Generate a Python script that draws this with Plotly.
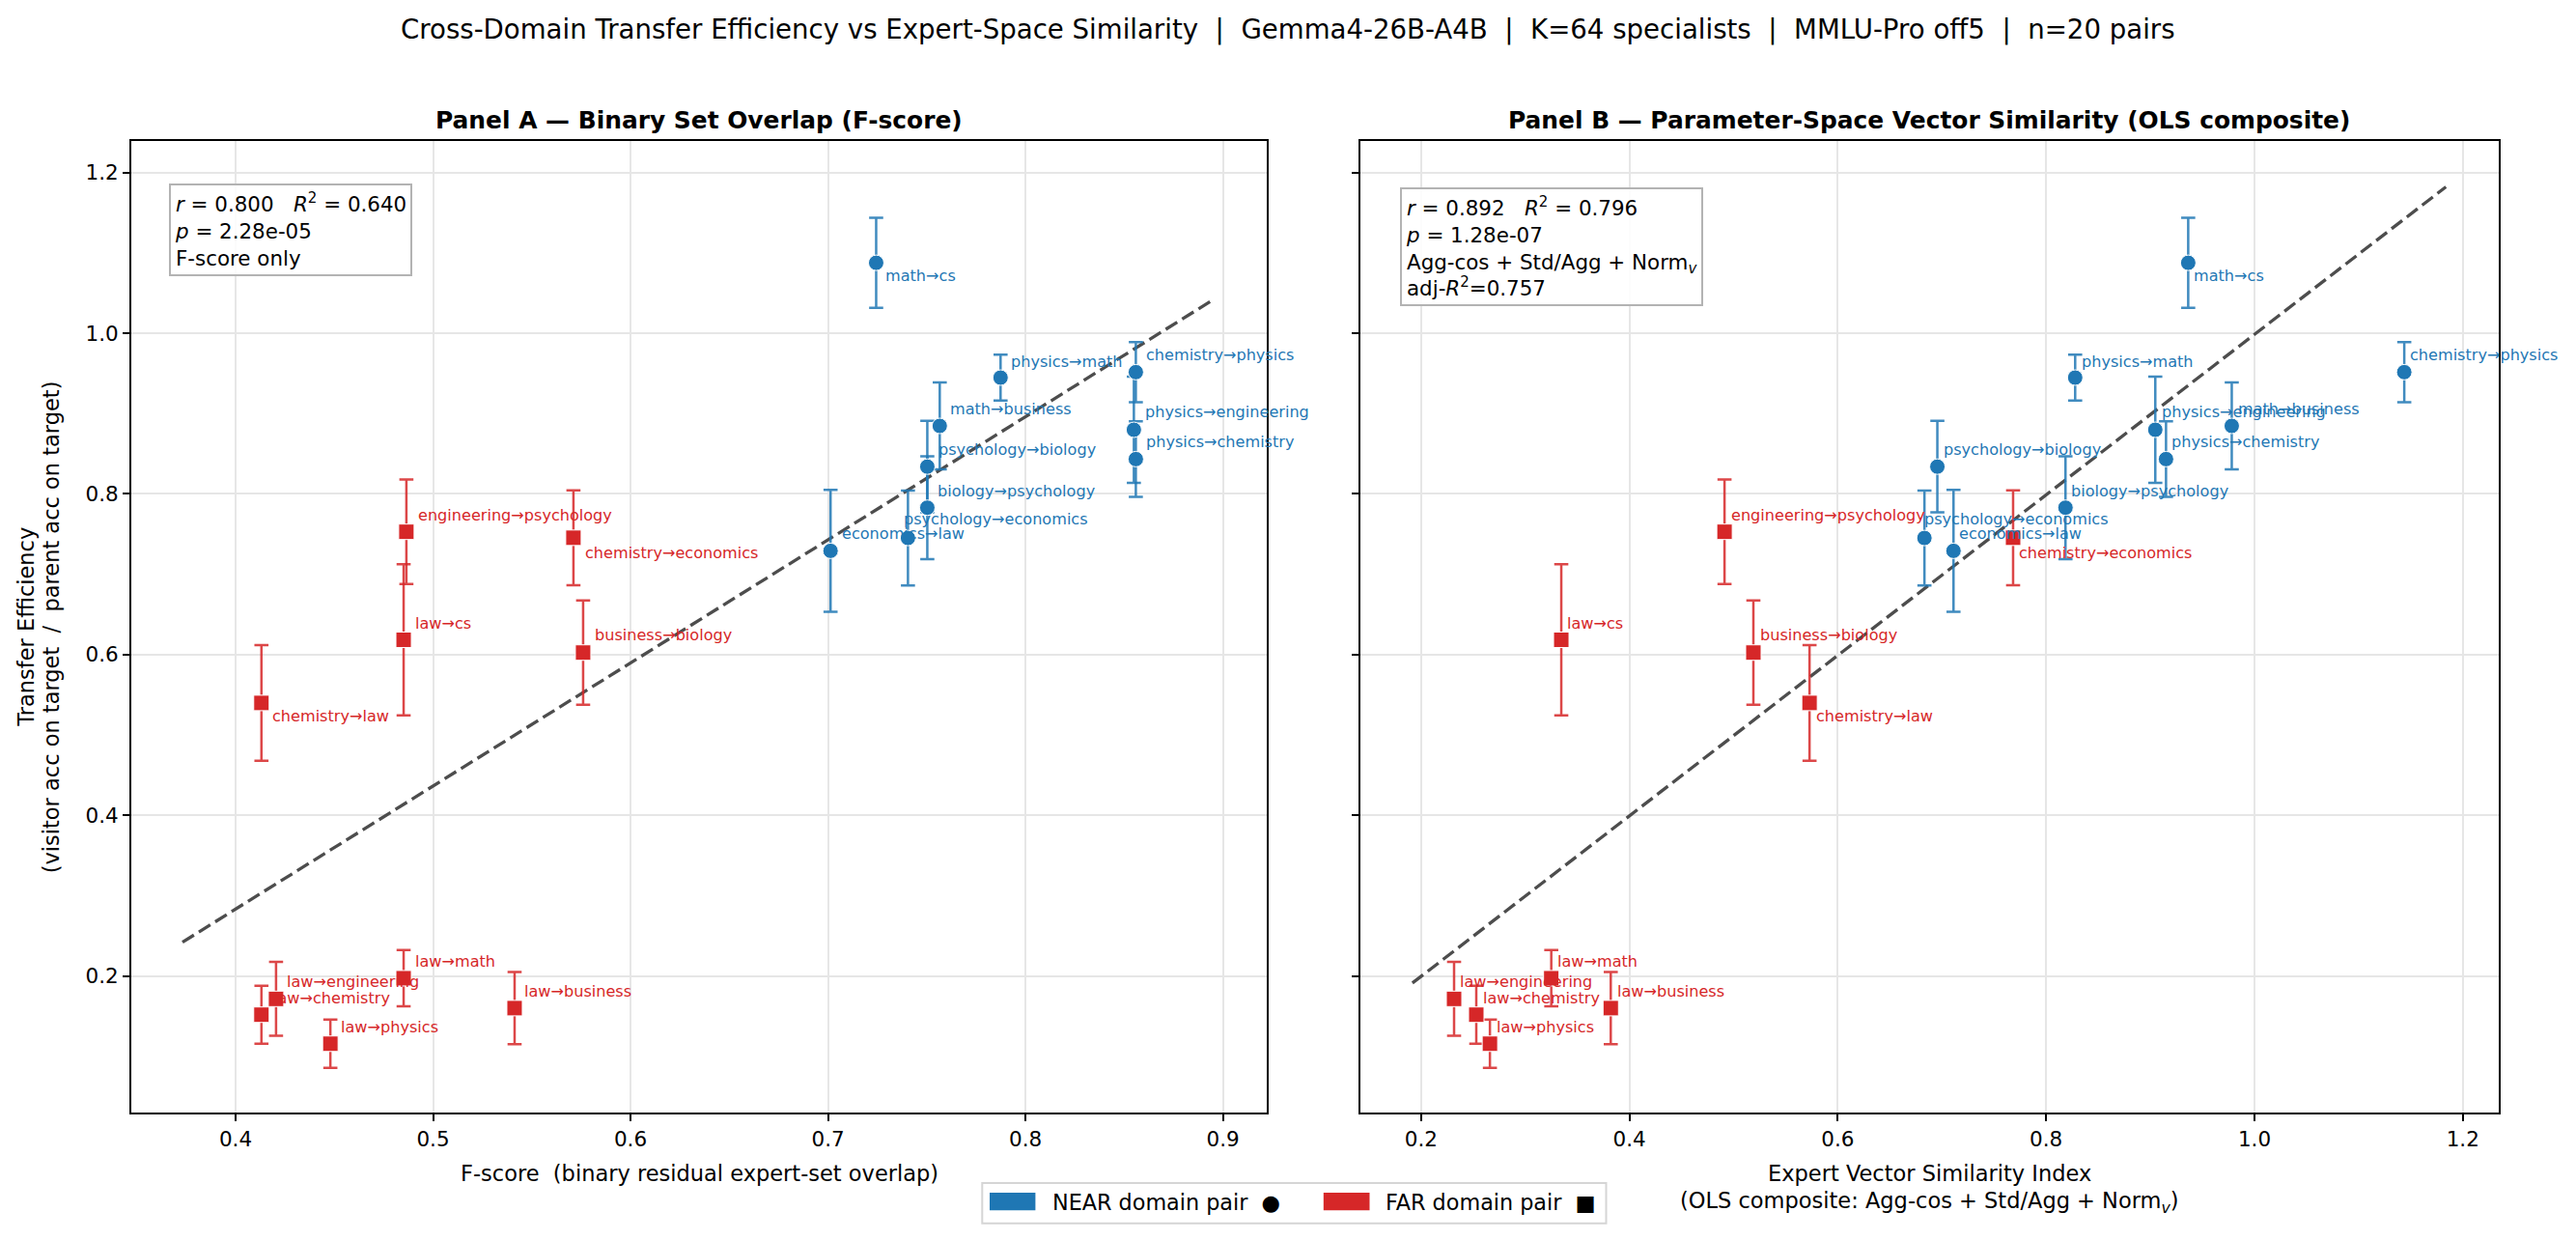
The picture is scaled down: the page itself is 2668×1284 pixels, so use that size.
import numpy as np
import plotly.graph_objects as go

W, H = 2668, 1284

# ---------------- data ----------------
near_pairs = ["math→cs", "physics→math", "chemistry→physics", "physics→engineering",
              "math→business", "physics→chemistry", "psychology→biology",
              "biology→psychology", "psychology→economics", "economics→law"]
near_fscore = [0.7244, 0.7874, 0.8559, 0.8549, 0.7566, 0.8559, 0.7503, 0.7503, 0.7405, 0.7013]
near_vsi = [0.9364, 0.8279, 1.1438, 0.9048, 0.9782, 0.9151, 0.6956, 0.8186, 0.6832, 0.7111]
near_te = [1.0876, 0.9447, 0.9515, 0.8798, 0.8846, 0.8433, 0.8339, 0.7828, 0.7451, 0.7291]
near_err = [0.056, 0.0285, 0.0375, 0.066, 0.054, 0.047, 0.057, 0.064, 0.059, 0.076]

far_pairs = ["engineering→psychology", "chemistry→economics", "law→cs", "business→biology",
             "chemistry→law", "law→math", "law→business", "law→engineering",
             "law→chemistry", "law→physics"]
far_fscore = [0.4865, 0.5711, 0.4851, 0.5760, 0.4131, 0.4851, 0.5413, 0.4205, 0.4131, 0.4480]
far_vsi = [0.4913, 0.7683, 0.3346, 0.5190, 0.5729, 0.3250, 0.3821, 0.2317, 0.2530, 0.2661]
far_te = [0.7528, 0.7454, 0.6184, 0.6025, 0.5398, 0.1972, 0.1600, 0.1715, 0.1518, 0.1157]
far_err = [0.065, 0.059, 0.094, 0.065, 0.072, 0.035, 0.045, 0.046, 0.036, 0.030]

stats_a = ["<i>r</i> = 0.800\u00a0\u00a0\u00a0<i>R</i><sup>2</sup> = 0.640",
           "<i>p</i> = 2.28e-05", "F-score only"]
stats_b = ["<i>r</i> = 0.892\u00a0\u00a0\u00a0<i>R</i><sup>2</sup> = 0.796",
           "<i>p</i> = 1.28e-07", "Agg-cos + Std/Agg + Norm<sub><i>v</i></sub>",
           "adj-<i>R</i><sup>2</sup>=0.757"]

# ---------------- label offsets (style, in px) ----------------
up_near = [-13.6, 17, 17.9, 18.2, 17.4, 17.9, 17.5, 17.1, 19.6, 17.5]
up_far = [16.7, -15.3, 16.8, 17.8, -13.9, 17.5, 17.1, 17.9, 17.1, 17.1]
dxA_near = [8, 9, 9, 9.4, 9, 9, 9.4, 9, -6, 9.4]
dxA_far = [9.6, 9.6, 9.7, 9.6, 9.2, 9.7, 8.2, 9.1, 10, 9.2]
dxB_near = [4.1, 4.8, 4.2, 4.5, 4.1, 4.1, 4.1, 3.4, -2, 4.2]
dxB_far = [5, 4.1, 4.1, 4.5, 4.5, 4.5, 4.5, 4.1, 4.5, 4.9]

BLUE = "#1f77b4"
RED = "#d62728"
BLUE_E = "rgba(31,119,180,0.85)"
RED_E = "rgba(214,39,40,0.85)"
FONT = "DejaVu Sans"


def px(x):
    return x / W


def py(y):
    return 1 - y / H


fig = go.Figure()


def add_panel(xa, ya, xn, xf, dxn, dxf):
    xall = np.array(xn + xf)
    yall = np.array(near_te + far_te)
    slope, icpt = np.polyfit(xall, yall, 1)
    xs = np.array([xall.min() - 0.04, xall.max() + 0.04])
    fig.add_trace(go.Scatter(x=xs, y=slope * xs + icpt, mode="lines", xaxis=xa, yaxis=ya,
                             line=dict(color="#4d4d4d", width=3.3, dash="14px,6px"),
                             showlegend=False, hoverinfo="skip"))
    for xv, yv, ev, col, ecol, sym in [(xn, near_te, near_err, BLUE, BLUE_E, "circle"),
                                       (xf, far_te, far_err, RED, RED_E, "square")]:
        fig.add_trace(go.Scatter(
            x=xv, y=yv, mode="markers", xaxis=xa, yaxis=ya, showlegend=False,
            marker=dict(symbol=sym, size=16, color=col, line=dict(color="white", width=1)),
            error_y=dict(type="data", array=ev, visible=True, color=ecol, thickness=2.5, width=7.3)))
    axx = "x" if xa == "x" else "x2"
    axy = "y" if ya == "y" else "y2"
    for names, xv, yv, dx, up, col in [(near_pairs, xn, near_te, dxn, up_near, BLUE),
                                       (far_pairs, xf, far_te, dxf, up_far, RED)]:
        for n, a, b, d, u in zip(names, xv, yv, dx, up):
            fig.add_annotation(x=a, y=b, xref=axx, yref=axy, text=n, showarrow=False,
                               xanchor="left", yanchor="middle", xshift=d, yshift=u,
                               font=dict(family=FONT, size=16.1, color=col))
    fig.add_shape(type="line", xref=f"{axx} domain", yref=axy, x0=0, x1=1, y0=1, y1=1,
                  line=dict(color="rgba(44,160,44,0.75)", width=1.6, dash="dot"), layer="below")


add_panel("x", "y", near_fscore, far_fscore, dxA_near, dxA_far)
add_panel("x2", "y2", near_vsi, far_vsi, dxB_near, dxB_far)

ydom = [py(1151.8), py(146.4)]
common = dict(showgrid=True, gridcolor="#e6e6e6", gridwidth=1.6, showline=True, mirror=True,
              linecolor="black", linewidth=2, ticks="outside", ticklen=7, tickwidth=1.7,
              tickcolor="black", zeroline=False, tickformat=".1f",
              tickfont=dict(family=FONT, size=21.5, color="black"))
fig.update_layout(
    width=W, height=H, autosize=False, margin=dict(l=0, r=0, t=0, b=0),
    plot_bgcolor="white", paper_bgcolor="white", showlegend=False,
    font=dict(family=FONT, color="black"),
    xaxis=dict(domain=[px(136), px(1312)], range=[0.3472, 0.9222], tick0=0, dtick=0.1,
               anchor="y", **common),
    yaxis=dict(domain=ydom, range=[0.0303, 1.2387], tick0=0, dtick=0.2, anchor="x", **common),
    xaxis2=dict(domain=[px(1408.8), px(2588)], range=[0.1416, 1.2345], tick0=0, dtick=0.2,
                anchor="y2", **common),
    yaxis2=dict(domain=ydom, range=[0.0303, 1.2387], tick0=0, dtick=0.2, anchor="x2",
                matches="y", showticklabels=False, **{k: v for k, v in common.items() if k != "tickfont"}),
)

# titles
fig.add_annotation(x=0.5, y=py(30.6), xref="paper", yref="paper", showarrow=False,
                   text="Cross-Domain Transfer Efficiency vs Expert-Space Similarity\u00a0\u00a0|\u00a0\u00a0"
                        "Gemma4-26B-A4B\u00a0\u00a0|\u00a0\u00a0K=64 specialists\u00a0\u00a0|\u00a0\u00a0"
                        "MMLU-Pro off5\u00a0\u00a0|\u00a0\u00a0n=20 pairs",
                   xanchor="center", yanchor="middle", font=dict(family=FONT, size=27.6))
fig.add_annotation(x=px((136 + 1312) / 2), y=py(125), xref="paper", yref="paper", showarrow=False,
                   text="<b>Panel A — Binary Set Overlap (F-score)</b>", xanchor="center",
                   yanchor="middle", font=dict(family=FONT, size=24.9))
fig.add_annotation(x=px((1408.8 + 2588) / 2), y=py(125), xref="paper", yref="paper", showarrow=False,
                   text="<b>Panel B — Parameter-Space Vector Similarity (OLS composite)</b>",
                   xanchor="center", yanchor="middle", font=dict(family=FONT, size=24.9))

# axis titles
AX = 22.5
fig.add_annotation(x=px((136 + 1312) / 2), y=py(1215), xref="paper", yref="paper", showarrow=False,
                   text="F-score\u00a0\u00a0(binary residual expert-set overlap)", xanchor="center",
                   yanchor="middle", font=dict(family=FONT, size=AX))
fig.add_annotation(x=px((1408.8 + 2588) / 2), y=py(1215), xref="paper", yref="paper", showarrow=False,
                   text="Expert Vector Similarity Index", xanchor="center",
                   yanchor="middle", font=dict(family=FONT, size=AX))
fig.add_annotation(x=px((1408.8 + 2588) / 2), y=py(1245), xref="paper", yref="paper", showarrow=False,
                   text="(OLS composite: Agg-cos + Std/Agg + Norm<sub><i>v</i></sub>)", xanchor="center",
                   yanchor="middle", font=dict(family=FONT, size=AX))
fig.add_annotation(x=px(26.7), y=py(649), xref="paper", yref="paper", showarrow=False,
                   text="Transfer Efficiency", textangle=-90, xanchor="center",
                   yanchor="middle", font=dict(family=FONT, size=AX))
fig.add_annotation(x=px(53.3), y=py(649), xref="paper", yref="paper", showarrow=False,
                   text="(visitor acc on target\u00a0\u00a0/\u00a0\u00a0parent acc on target)", textangle=-90,
                   xanchor="center", yanchor="middle", font=dict(family=FONT, size=AX))

# stats boxes
fig.add_annotation(x=px(174.8), y=py(190), xref="paper", yref="paper", showarrow=False,
                   text="<br>".join(stats_a), align="left", xanchor="left", yanchor="top",
                   bordercolor="#b3b3b3", borderwidth=2, borderpad=4, bgcolor="rgba(255,255,255,0.85)",
                   font=dict(family=FONT, size=21.4))
fig.add_annotation(x=px(1449.7), y=py(193.6), xref="paper", yref="paper", showarrow=False,
                   text="<br>".join(stats_b), align="left", xanchor="left", yanchor="top",
                   bordercolor="#b3b3b3", borderwidth=2, borderpad=4, bgcolor="rgba(255,255,255,0.85)",
                   font=dict(family=FONT, size=21.4))

# legend (manual)
fig.add_shape(type="rect", xref="paper", yref="paper", x0=px(1017.3), x1=px(1663.5),
              y0=py(1266.7), y1=py(1225), line=dict(color="#d5d5d5", width=2), fillcolor="white")
fig.add_shape(type="rect", xref="paper", yref="paper", x0=px(1025), x1=px(1072.4),
              y0=py(1253.3), y1=py(1235), line=dict(color=BLUE, width=0), fillcolor=BLUE)
fig.add_shape(type="rect", xref="paper", yref="paper", x0=px(1370.8), x1=px(1418.5),
              y0=py(1253.3), y1=py(1235), line=dict(color=RED, width=0), fillcolor=RED)
fig.add_annotation(x=px(1088), y=py(1245), xref="paper", yref="paper", showarrow=False,
                   text="NEAR domain pair\u00a0\u00a0●", xanchor="left", yanchor="middle",
                   font=dict(family=FONT, size=22.3))
fig.add_annotation(x=px(1433.5), y=py(1245), xref="paper", yref="paper", showarrow=False,
                   text="FAR domain pair\u00a0\u00a0■", xanchor="left", yanchor="middle",
                   font=dict(family=FONT, size=22.3))

fig.write_html("out.html")
